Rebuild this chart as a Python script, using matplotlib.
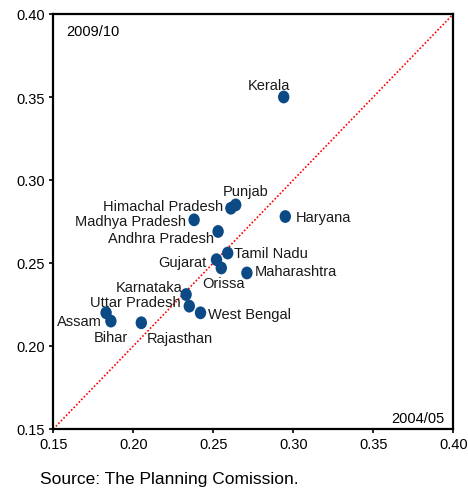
import matplotlib
matplotlib.use("Agg")
import matplotlib.pyplot as plt
from matplotlib.path import Path
from matplotlib.transforms import Affine2D

plt.rcParams['font.family'] = ['Liberation Sans', 'DejaVu Sans']

states = ["Kerala", "Punjab", "Himachal Pradesh", "Madhya Pradesh", "Haryana",
          "Andhra Pradesh", "Tamil Nadu", "Gujarat", "Orissa", "Maharashtra",
          "Karnataka", "Uttar Pradesh", "Assam", "Bihar", "Rajasthan", "West Bengal"]
gini_2004 = [0.294, 0.264, 0.261, 0.238, 0.295,
             0.253, 0.259, 0.252, 0.255, 0.271,
             0.233, 0.235, 0.183, 0.186, 0.205, 0.242]
gini_2009 = [0.350, 0.285, 0.283, 0.276, 0.278,
             0.269, 0.256, 0.252, 0.247, 0.244,
             0.231, 0.224, 0.220, 0.215, 0.214, 0.220]

ticks = [0.15, 0.20, 0.25, 0.30, 0.35, 0.40]
tick_labels = ["0.15", "0.20", "0.25", "0.30", "0.35", "0.40"]

# label placement: (dx px, dy px, ha, va)
label_pos = {
    "Kerala": (-15, 12, "center", "center"),
    "Punjab": (10, 14, "center", "center"),
    "Himachal Pradesh": (-8, 2, "right", "center"),
    "Madhya Pradesh": (-8, -1, "right", "center"),
    "Haryana": (10, 0, "left", "center"),
    "Andhra Pradesh": (-4, -7, "right", "center"),
    "Tamil Nadu": (6, 0, "left", "center"),
    "Gujarat": (-10, -2, "right", "center"),
    "Orissa": (2, -15, "center", "center"),
    "Maharashtra": (8, 2, "left", "center"),
    "Karnataka": (-4, 8, "right", "center"),
    "Uttar Pradesh": (-9, 4, "right", "center"),
    "Assam": (-4, -8, "right", "center"),
    "Bihar": (0, -16, "center", "center"),
    "Rajasthan": (5, -15, "left", "center"),
    "West Bengal": (7, -1, "left", "center"),
}

fig = plt.figure(figsize=(4.68, 4.89), dpi=100)
ax = fig.add_axes([53.3/468, 1-430/489, 400/468, 415/489])

ellipse = Path.unit_circle().transformed(Affine2D().scale(0.89, 1.0))

ax.plot([0.15, 0.40], [0.15, 0.40], color="#ff0000", linestyle=(0, (1, 1.2)), lw=1.2, zorder=1)
ax.scatter(gini_2004, gini_2009, s=85, marker=ellipse, color="#0b4a85", edgecolors="none", zorder=3)

for s, x, y in zip(states, gini_2004, gini_2009):
    dx, dy, ha, va = label_pos[s]
    ax.annotate(s, (x, y), xytext=(dx, dy), textcoords="offset pixels",
                ha=ha, va=va, fontsize=10.5, color="#1a1a1a", zorder=4)

ax.set_xlim(0.15, 0.40)
ax.set_ylim(0.15, 0.40)
ax.set_xticks(ticks)
ax.set_xticklabels(tick_labels)
ax.set_yticks(ticks)
ax.set_yticklabels(tick_labels)
ax.tick_params(direction="out", length=3, width=1.2, labelsize=10.5, colors="black", pad=3)
for sp in ax.spines.values():
    sp.set_linewidth(1.6)
    sp.set_color("black")

ax.text(0.032, 0.96, "2009/10", transform=ax.transAxes, ha="left", va="center", fontsize=10.5)
ax.text(0.979, 0.026, "2004/05", transform=ax.transAxes, ha="right", va="center", fontsize=10.5)

fig.text(40/468, 1-479.3/489, "Source: The Planning Comission.", ha="left", va="center", fontsize=12.5)

fig.savefig("out.png", dpi=100)
